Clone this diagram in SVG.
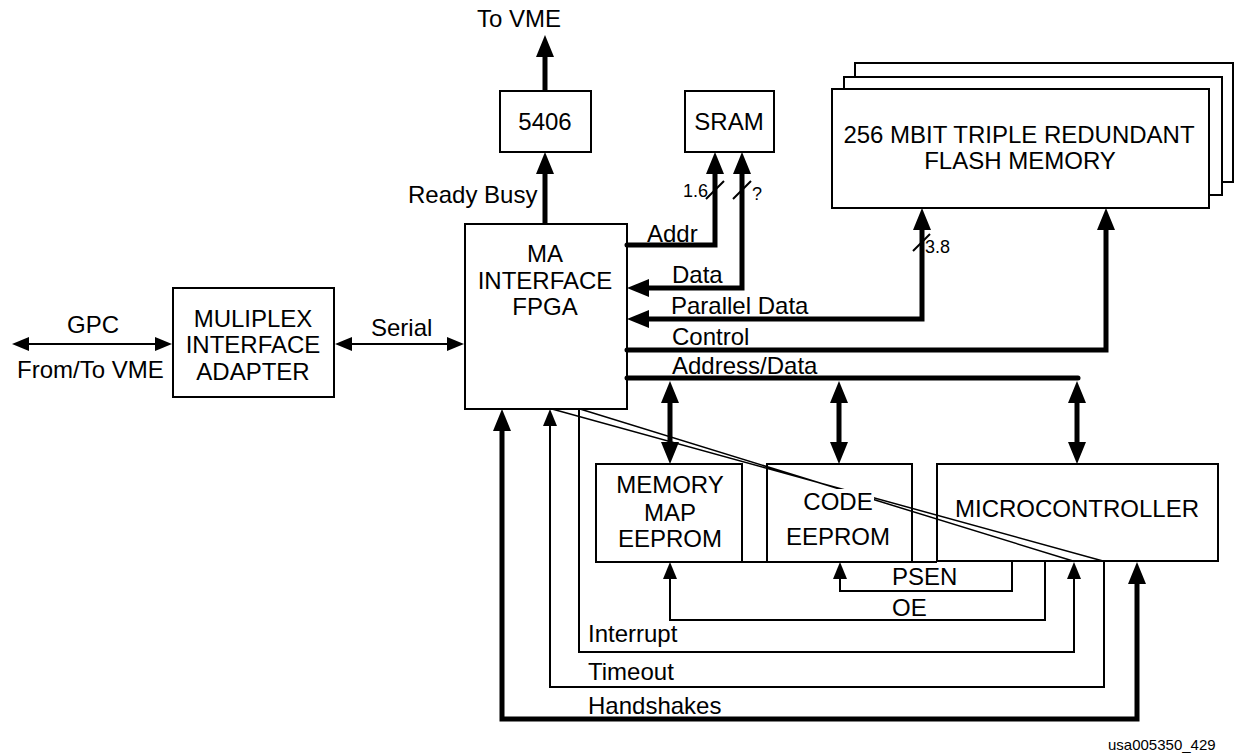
<svg xmlns="http://www.w3.org/2000/svg" width="1235" height="755" viewBox="0 0 1235 755">
<style>
.box{fill:#fff;stroke:#000;stroke-width:2}
.open{fill:none;stroke:#000;stroke-width:2}
.t{font-family:"Liberation Sans",Arial,sans-serif;font-size:24px;fill:#000}
.m{text-anchor:middle}
.s{font-size:18px}
.thick{fill:none;stroke:#000;stroke-width:5;stroke-linejoin:miter}
.thin{fill:none;stroke:#000;stroke-width:2;stroke-linejoin:miter}
.hair{fill:none;stroke:#000;stroke-width:1.5}
</style>
<defs>
<marker id="ah" markerUnits="userSpaceOnUse" markerWidth="22" markerHeight="18" refX="12" refY="9" orient="auto-start-reverse" viewBox="0 0 22 18"><path d="M0,0 L22,9 L0,18 z" fill="#000"/></marker>
<marker id="as" markerUnits="userSpaceOnUse" markerWidth="17" markerHeight="14" refX="9" refY="7" orient="auto-start-reverse" viewBox="0 0 17 14"><path d="M0,0 L17,7 L0,14 z" fill="#000"/></marker>
</defs>
<rect width="1235" height="755" fill="#fff"/>

<g id="flash">
<rect class="box" x="855" y="63" width="378" height="119"/>
<rect class="box" x="844" y="77" width="378" height="118"/>
<rect class="box" x="832" y="89" width="377" height="119"/>
<text class="t m" x="1019" y="143">256 MBIT TRIPLE REDUNDANT</text>
<text class="t m" x="1020" y="169">FLASH MEMORY</text>
</g>
<g id="n5406">
<rect class="box" x="500" y="91" width="91" height="61"/>
<text class="t m" x="545" y="130">5406</text>
</g>
<g id="sram">
<rect class="box" x="685" y="91" width="89" height="61"/>
<text class="t m" x="729" y="130">SRAM</text>
</g>
<g id="fpga">
<rect class="box" x="465" y="224" width="162" height="185"/>
<text class="t m" x="545" y="262">MA</text>
<text class="t m" x="545" y="289">INTERFACE</text>
<text class="t m" x="545" y="315">FPGA</text>
</g>
<g id="mux">
<rect class="box" x="173" y="288" width="161" height="109"/>
<text class="t m" x="253" y="327">MULIPLEX</text>
<text class="t m" x="253" y="353">INTERFACE</text>
<text class="t m" x="253" y="380">ADAPTER</text>
</g>
<g id="mmeeprom">
<rect class="open" x="596" y="464" width="146" height="98"/>
<text class="t m" x="670" y="493">MEMORY</text>
<text class="t m" x="670" y="521">MAP</text>
<text class="t m" x="670" y="547">EEPROM</text>
</g>
<g id="micro">
<rect class="open" x="937" y="464" width="281" height="97"/>
<text class="t m" x="1077" y="517">MICROCONTROLLER</text>
</g>

<g id="connectors">
<path class="thick" d="M545,91 V45" marker-end="url(#ah)"/>
<path class="thick" d="M545,224 V162" marker-end="url(#ah)"/>
<path class="thick" d="M627,245 H715 V162" stroke-linecap="round" marker-end="url(#ah)"/>
<path class="thick" d="M637,288 H742 V162" marker-start="url(#ah)" marker-end="url(#ah)"/>
<path class="thick" d="M637,319 H922 V218" marker-start="url(#ah)" marker-end="url(#ah)"/>
<path class="thick" d="M627,350 H1106 V218" stroke-linecap="round" marker-end="url(#ah)"/>
<path class="thick" d="M627,378 H1078" stroke-linecap="round"/>
<path class="thick" d="M670,391 V454" marker-start="url(#ah)" marker-end="url(#ah)"/>
<path class="thick" d="M839,391 V454" marker-start="url(#ah)" marker-end="url(#ah)"/>
<path class="thick" d="M1077,391 V454" marker-start="url(#ah)" marker-end="url(#ah)"/>
<path class="thick" d="M502,419 V719 H1137 V572" marker-start="url(#ah)" marker-end="url(#ah)"/>
<path class="thin" d="M20,344 H164" marker-start="url(#as)" marker-end="url(#as)"/>
<path class="thin" d="M343,344 H456" marker-start="url(#as)" marker-end="url(#as)"/>
<path class="thin" d="M1012,562 V591 H840 V570" marker-end="url(#as)"/>
<path class="thin" d="M1045,562 V620 H670 V570" marker-end="url(#as)"/>
<path class="thin" d="M579,409 V652 H1074 V570" marker-end="url(#as)"/>
<path class="thin" d="M1104,562 V687 H550 V417" marker-end="url(#as)"/>
<path class="thin" d="M706,199 L724,181 M733,199 L751,181 M913,251 L930,234"/>
<path class="hair" d="M552,409 L1103,561 M580,409 L1073,561"/>
<path class="thin" d="M742,562 H767 M912,562 H937"/>
</g>

<g id="codeeeprom">
<rect class="open" x="767" y="464" width="145" height="98"/>
<rect x="829" y="489" width="45" height="19" fill="#fff"/>
<text class="t m" x="838" y="510">CODE</text>
<text class="t m" x="838" y="545">EEPROM</text>
</g>

<g id="labels">
<text class="t" x="477" y="27">To VME</text>
<text class="t" x="408" y="203">Ready Busy</text>
<text class="t s" x="683" y="197">1.6</text>
<text class="t s" x="752" y="200">?</text>
<text class="t s" x="925" y="253">3.8</text>
<text class="t" x="647" y="242">Addr</text>
<text class="t" x="672" y="283">Data</text>
<text class="t" x="671" y="314">Parallel Data</text>
<text class="t" x="672" y="345">Control</text>
<text class="t" x="672" y="374">Address/Data</text>
<text class="t" x="67" y="333">GPC</text>
<text class="t" x="17" y="378">From/To VME</text>
<text class="t" x="371" y="336">Serial</text>
<text class="t" x="892" y="585">PSEN</text>
<text class="t" x="892" y="616">OE</text>
<text class="t" x="588" y="642">Interrupt</text>
<text class="t" x="588" y="680">Timeout</text>
<text class="t" x="588" y="714">Handshakes</text>
<text class="t" x="1108" y="750" style="font-size:15px">usa005350_429</text>
</g>
</svg>
